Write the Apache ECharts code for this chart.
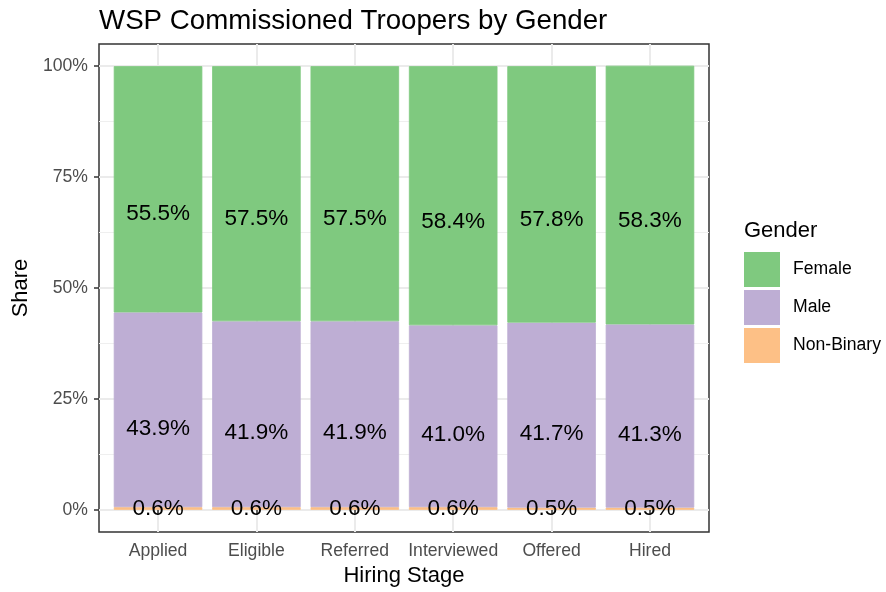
<!DOCTYPE html>
<html>
<head>
<meta charset="utf-8">
<script src="https://cdn.jsdelivr.net/npm/echarts@6/dist/echarts.min.js"></script>
<style>html,body{margin:0;padding:0;background:#fff}#c{width:886px;height:592px}</style>
</head>
<body>
<div id="c"></div>
<script>
const stages = ['Applied', 'Eligible', 'Referred', 'Interviewed', 'Offered', 'Hired'];
const female = [55.5, 57.5, 57.5, 58.4, 57.8, 58.3];
const male = [43.9, 41.9, 41.9, 41.0, 41.7, 41.3];
const nonBinary = [0.6, 0.6, 0.6, 0.6, 0.5, 0.5];
const yTicks = [0, 25, 50, 75, 100];
const yMinorTicks = [12.5, 37.5, 62.5, 87.5];

const FONT = 'Liberation Sans, Arial, sans-serif';
const gridLeft = 99, gridWidth = 610, gridTop = 44, gridHeight = 488;
const xMin = 0.4, xMax = stages.length + 0.6;
const unitPx = gridWidth / (xMax - xMin);
const xPos = stages.map((s, i) => i + 1);

function mk(name, vals, color) {
  return {
    name: name, type: 'bar', stack: 'all', xAxisIndex: 1, yAxisIndex: 2,
    barCategoryGap: '10%',
    itemStyle: { color: color, borderColor: color, borderWidth: 0.8 },
    data: vals,
    label: {
      show: true, position: ['50%', '60%'], align: 'center', verticalAlign: 'middle',
      formatter: p => p.value.toFixed(1) + '%',
      color: '#000', fontSize: 22.5, fontFamily: FONT
    },
    emphasis: { disabled: true },
    z: 3
  };
}

const chart = echarts.init(document.getElementById('c'), null, { renderer: 'canvas' });
chart.setOption({
  animation: false,
  backgroundColor: '#fff',
  textStyle: { fontFamily: FONT },
  title: [
    { text: 'WSP Commissioned Troopers by Gender', left: 99, top: 7, padding: 0,
      textStyle: { fontSize: 27.7, fontWeight: 'normal', color: '#000', fontFamily: FONT } },
    { text: 'Gender', left: 744, top: 220, padding: 0,
      textStyle: { fontSize: 22, fontWeight: 'normal', color: '#000', fontFamily: FONT } }
  ],
  legend: {
    orient: 'vertical', left: 744, top: 252, padding: 0,
    data: ['Female', 'Male', 'Non-Binary'],
    icon: 'rect', itemWidth: 34, itemHeight: 33, itemGap: 3,
    textStyle: { fontSize: 17.6, color: '#000', fontFamily: FONT, padding: [0, 0, 0, 9] },
    selectedMode: false
  },
  grid: [
    { left: gridLeft, top: gridTop, width: gridWidth, height: gridHeight,
      show: true, borderColor: '#333333', borderWidth: 1.5, backgroundColor: '#fff' },
    { left: gridLeft + 0.1 * unitPx, top: gridTop, width: stages.length * unitPx, height: gridHeight }
  ],
  xAxis: [
    {
      gridIndex: 0, type: 'value', min: xMin, max: xMax,
      name: 'Hiring Stage', nameLocation: 'middle', nameGap: 31,
      nameTextStyle: { fontSize: 22, color: '#000', fontFamily: FONT },
      axisLine: { show: false },
      axisTick: { show: true, customValues: xPos, length: 5, lineStyle: { color: '#333333', width: 1.5 } },
      axisLabel: { customValues: xPos, margin: 10, fontSize: 17.6, color: '#4D4D4D', fontFamily: FONT,
        formatter: v => stages[Math.round(v) - 1] },
      splitLine: { show: true, lineStyle: { color: '#EBEBEB', width: 2 } }
    },
    {
      gridIndex: 1, type: 'category', data: stages, show: false
    }
  ],
  yAxis: [
    {
      gridIndex: 0, type: 'value', min: -5, max: 105,
      name: 'Share', nameLocation: 'middle', nameGap: 62,
      nameTextStyle: { fontSize: 22, color: '#000', fontFamily: FONT },
      axisLine: { show: false },
      axisTick: { show: true, customValues: yTicks, length: 5, lineStyle: { color: '#333333', width: 1.5 } },
      axisLabel: { customValues: yTicks, margin: 11, fontSize: 17.6, color: '#4D4D4D', fontFamily: FONT,
        formatter: v => v + '%' },
      splitLine: { show: true, lineStyle: { color: '#EBEBEB', width: 2 } }
    },
    {
      gridIndex: 0, type: 'value', min: -5, max: 105, position: 'right',
      axisLine: { show: false },
      axisTick: { show: false, customValues: yMinorTicks },
      axisLabel: { show: false, customValues: yMinorTicks },
      splitLine: { show: true, lineStyle: { color: '#EFEFEF', width: 1 } }
    },
    {
      gridIndex: 1, type: 'value', min: -5, max: 105, show: false, splitLine: { show: false }
    }
  ],
  series: [
    mk('Non-Binary', nonBinary, '#FDC086'),
    mk('Male', male, '#BEAED4'),
    mk('Female', female, '#7FC97F')
  ]
});
</script>
</body>
</html>
